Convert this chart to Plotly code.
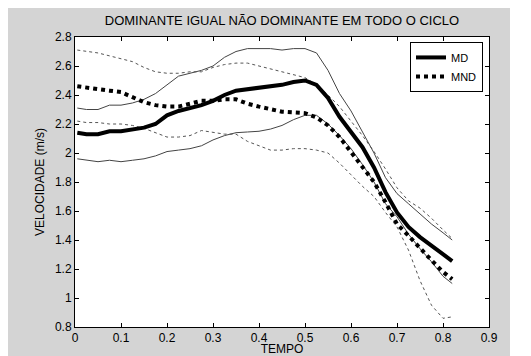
import plotly.graph_objects as go

tempo = [0.005, 0.025, 0.05, 0.075, 0.1, 0.125, 0.15, 0.175, 0.2, 0.225, 0.25, 0.275,
         0.3, 0.325, 0.35, 0.375, 0.4, 0.425, 0.45, 0.475, 0.5, 0.525, 0.55, 0.575,
         0.6, 0.625, 0.65, 0.675, 0.7, 0.725, 0.75, 0.775, 0.8, 0.82]

md = [2.14, 2.13, 2.13, 2.15, 2.15, 2.16, 2.175, 2.20, 2.26, 2.29, 2.31, 2.33,
      2.36, 2.40, 2.43, 2.44, 2.45, 2.46, 2.47, 2.49, 2.50, 2.47, 2.38, 2.25,
      2.15, 2.04, 1.90, 1.73, 1.59, 1.49, 1.42, 1.36, 1.30, 1.255]

mnd = [2.46, 2.45, 2.44, 2.43, 2.42, 2.385, 2.35, 2.33, 2.32, 2.32, 2.34, 2.36,
       2.36, 2.37, 2.37, 2.34, 2.32, 2.30, 2.285, 2.28, 2.275, 2.245, 2.19, 2.11,
       2.01, 1.91, 1.80, 1.66, 1.51, 1.43, 1.34, 1.26, 1.18, 1.13]

md_sup = [2.31, 2.30, 2.30, 2.33, 2.33, 2.345, 2.37, 2.41, 2.47, 2.53, 2.55, 2.57,
          2.60, 2.66, 2.70, 2.72, 2.72, 2.72, 2.71, 2.72, 2.72, 2.69, 2.57, 2.41,
          2.29, 2.15, 2.00, 1.83, 1.72, 1.65, 1.58, 1.51, 1.45, 1.40]

md_inf = [1.96, 1.95, 1.94, 1.95, 1.94, 1.95, 1.96, 1.98, 2.01, 2.02, 2.03, 2.05,
          2.09, 2.12, 2.14, 2.145, 2.15, 2.165, 2.19, 2.23, 2.26, 2.26, 2.20, 2.12,
          2.03, 1.92, 1.80, 1.65, 1.56, 1.44, 1.34, 1.25, 1.15, 1.10]

mnd_sup = [2.71, 2.70, 2.69, 2.67, 2.65, 2.63, 2.59, 2.56, 2.55, 2.55, 2.56, 2.56,
           2.59, 2.61, 2.62, 2.62, 2.60, 2.58, 2.56, 2.54, 2.52, 2.47, 2.40, 2.32,
           2.22, 2.12, 2.01, 1.89, 1.76, 1.67, 1.62, 1.55, 1.47, 1.41]

mnd_inf = [2.22, 2.21, 2.21, 2.20, 2.20, 2.19, 2.17, 2.14, 2.11, 2.11, 2.12, 2.155,
           2.14, 2.13, 2.13, 2.08, 2.05, 2.02, 2.02, 2.03, 2.03, 2.02, 2.00, 1.93,
           1.85, 1.77, 1.70, 1.59, 1.49, 1.33, 1.12, 0.95, 0.86, 0.87]

x_ticks = [0, 0.1, 0.2, 0.3, 0.4, 0.5, 0.6, 0.7, 0.8, 0.9]
y_ticks = [0.8, 1, 1.2, 1.4, 1.6, 1.8, 2, 2.2, 2.4, 2.6, 2.8]

fig = go.Figure()
fig.add_trace(go.Scatter(x=tempo, y=md_sup, mode="lines", showlegend=False,
                         line=dict(color="#444444", width=1)))
fig.add_trace(go.Scatter(x=tempo, y=md_inf, mode="lines", showlegend=False,
                         line=dict(color="#444444", width=1)))
fig.add_trace(go.Scatter(x=tempo, y=mnd_sup, mode="lines", showlegend=False,
                         line=dict(color="#555555", width=1, dash="3px,3px")))
fig.add_trace(go.Scatter(x=tempo, y=mnd_inf, mode="lines", showlegend=False,
                         line=dict(color="#555555", width=1, dash="3px,3px")))
fig.add_trace(go.Scatter(x=tempo, y=md, mode="lines", name="MD",
                         line=dict(color="black", width=4)))
fig.add_trace(go.Scatter(x=tempo, y=mnd, mode="lines", name="MND",
                         line=dict(color="black", width=4, dash="4px,4px")))

axis_common = dict(showgrid=False, zeroline=False, showline=True, linecolor="black",
                   linewidth=1, mirror="ticks", ticks="inside", ticklen=4,
                   tickcolor="black", tickfont=dict(size=12, color="black"),
                   automargin=False)

# the page body adds an 8px offset; the figure is the grey panel
W, H = 502, 348
L, R, T, B = 67, 21, 29, 29

fig.update_layout(
    width=W, height=H,
    paper_bgcolor="#d4d4d4", plot_bgcolor="white",
    font=dict(family="Liberation Sans, Arial, sans-serif", size=12, color="black"),
    margin=dict(l=L, r=R, t=T, b=B),
    title=dict(text="DOMINANTE IGUAL NÃO DOMINANTE EM TODO O CICLO",
               x=0.5, xref="paper", xanchor="center", y=1 - 12 / H, yref="container",
               yanchor="middle", font=dict(size=13)),
    xaxis=dict(range=[0, 0.9], tickvals=x_ticks, ticktext=[str(v) for v in x_ticks],
               title=dict(text="TEMPO", standoff=3, font=dict(size=12)), **axis_common),
    yaxis=dict(range=[0.8, 2.8], tickvals=y_ticks, ticktext=[str(v) for v in y_ticks],
               title=dict(text="VELOCIDADE (m/s)", standoff=7, font=dict(size=12)), **axis_common),
    legend=dict(x=0.9855, y=0.983, xanchor="right", yanchor="top",
                bgcolor="white", bordercolor="black", borderwidth=1,
                font=dict(size=11), tracegroupgap=0, itemwidth=30),
)

fig.write_html("out.html")
